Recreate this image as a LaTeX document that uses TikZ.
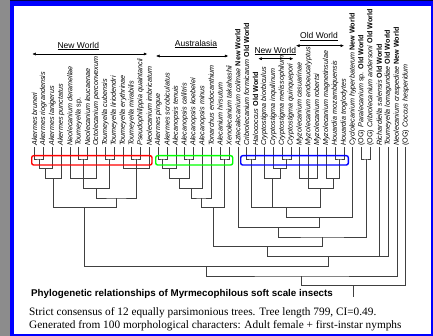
\documentclass[tikz,border=0pt]{standalone}
\usepackage{fontspec}
\setmainfont{Liberation Sans}
\newfontfamily\capfont{Liberation Serif}
\usetikzlibrary{calc,arrows.meta}

\newcommand\Ytop{159}
\newcommand\dY{9.75}
\newcommand\regn[1]{\textup{\bfseries #1}}
% one clade: name, left child, right child, level
\newcommand\clade[4]{%
  \pgfmathsetmacro\lvy{\Ytop+\dY*#4}
  \coordinate (#1) at ($(#2)!.5!(#3)$);
  \coordinate (#1) at (#1 |- 0,\lvy);
  \draw[branch] (#2) |- (#1) -| (#3);
}

\tikzset{
  branch/.style={draw=black!75, line width=0.6pt},
  taxon/.style={rotate=90, anchor=west, inner sep=0pt,
    font=\fontsize{7.2}{8}\selectfont\itshape},
  grpbox/.style={draw=#1, line width=1.4pt, rounded corners=2pt},
  rangearrow/.style={{Latex[length=3.5pt,width=3pt]}-{Latex[length=3.5pt,width=3pt]},
    line width=0.5pt},
  grp/.style={inner sep=0pt, font=\fontsize{8.5}{10}\selectfont},
}

\begin{document}
\begin{tikzpicture}[x=1pt,y=-1pt]
  \useasboundingbox (0,0) rectangle (433,336);

  % frame of the slide
  \fill[black!45] (0,0) rectangle (433,336);
  \fill[black!70!blue] (10,0) rectangle (433,1.2);
  \fill[blue] (10,1.2) rectangle (433,336);
  \fill[white] (14,6) rectangle (431,334);

  % taxa
  \foreach \nm [count=\i] in {Akermes bruneri, Akermes riograndensis,
    Akermes lanigerus, Akermes punctatus, Neolecanium deramellae,
    Toumeyella {\upshape sp.}, Neolecanium leucaenae, Octolecanium perconvexum,
    Toumeyella cubensis, Toumeyella liriodendri, Toumeyella erythrinae,
    Toumeyella mirabilis, Pseudophilippia quaintancii, Neolecanium imbricatum,
    Akermes pingue, Akermes scrobiculatus, Alecanopsis tenuis,
    Alecanopsis callitris, Alecanopsis koebelei, Alecanopsis minus,
    Tonarchus endocanthium, Alecanium hirsutum, Xenolecanium takahashii,
    Aztecalecanium colimae \regn{New World},
    Cribrolecanium formicarum \regn{Old World}, Halococcus \regn{Old World},
    Cryptostigma biorbiculus, Cryptostigma inquilinum,
    Cryptostigma melissophilum, Cryptostigma quinquepori,
    Myzolecanium casuarinae, Myzolecanium endoeucalyptus,
    Myzolecanium robertsi, Myzolecanium magnetinsulae,
    Houardia mozambiquensis, Houardia troglodytes,
    Cyclolecanium hyperbaterum \regn{New World},
    {\upshape(OG)} Paralecanium {\upshape sp.} \regn{Old World},
    {\upshape(OG)} Cribrolecanium andersoni \regn{Old World},
    Richardiella salensis \regn{Old World},
    Toumeyella lomagundiae \regn{Old World},
    Neolecanium craspediae \regn{New World},
    {\upshape(OG)} Coccus hesperidum}{
    \coordinate (l\i) at ({34.5+(\i-1)*8.84},147.5);
    \node[taxon] (t\i) at ({34.5+(\i-1)*8.84},146) {\nm};
  }

  % New World clade
  \clade{a1}{l1}{l2}{0}
  \clade{a2}{a1}{l3}{1}
  \clade{a3}{a2}{l4}{2}
  \clade{a4}{l6}{l7}{0}
  \clade{a5}{l5}{l8}{2}
  \draw[branch] (a4) -- (a4 |- a5);
  \clade{a6}{l9}{l10}{0}
  \clade{a7}{a5}{a6}{3}
  \clade{a8}{l12}{l13}{0}
  \clade{a9}{l11}{l14}{1}
  \draw[branch] (a8) -- (a8 |- a9);
  \clade{a10}{a7}{a9}{4}
  \clade{a11}{a3}{a10}{5}

  % Australasia
  \clade{b1}{l15}{l16}{0}
  \clade{b2}{b1}{l17}{1}
  \clade{b3}{l18}{l19}{0}
  \clade{b4}{b2}{b3}{2}
  \clade{b5}{b4}{l20}{3}
  \clade{b6}{b5}{l21}{4}
  \clade{b7}{l22}{l23}{0}
  \clade{b8}{b6}{b7}{5}

  % Old World / New World mix
  \clade{c1}{l25}{l26}{0}
  \clade{c2}{l29}{l30}{0}
  \clade{c3}{l28}{c2}{1}
  \clade{c4}{l27}{c3}{2}
  \clade{c5}{l31}{l33}{2}
  \draw[branch] (l32) -- (l32 |- c5);
  \clade{c6}{l35}{l36}{0}
  \clade{c7}{l34}{c6}{2}
  \clade{c8}{c5}{c7}{3}
  \clade{c9}{c1}{c8}{5}
  \draw[branch] (c4) -- (c4 |- c9);

  % backbone
  \clade{d1}{c9}{l37}{6}
  \clade{d2}{l24}{d1}{7}
  \clade{d3}{l38}{l39}{0}
  \clade{d4}{d2}{d3}{8}
  \clade{d5}{b8}{d4}{9}
  \clade{d6}{d5}{l41}{10}
  \draw[branch] (l40) -- (l40 |- d6);
  \clade{d7}{a11}{d6}{11}
  \clade{d8}{d7}{l42}{12}
  \clade{d9}{d8}{l43}{13}
  \coordinate (root) at (d9 |- 0,296.7);
  \draw[branch] (d9) -- (root);

  % boxes round the groups
  \draw[grpbox=red] (31.7,155.7) rectangle (152,165);
  \draw[grpbox=green] (155.7,155.7) rectangle (232.7,165);
  \draw[grpbox=blue] (240.7,155.7) rectangle (348.3,165);

  % ranges
  \coordinate (nw1a) at (32.3,54);  \coordinate (nw1b) at (147.3,54);
  \draw[rangearrow] (nw1a) -- (nw1b);
  \node[grp] (nw1) at (78.3,46) {\underline{New World}};
  \coordinate (ausa) at (156,56);  \coordinate (ausb) at (228.3,56);
  \draw[rangearrow] (ausa) -- (ausb);
  \node[grp] (aus) at (196,44) {\underline{Australasia}};
  \coordinate (nw2a) at (258.3,58.7);  \coordinate (nw2b) at (293.3,58.7);
  \draw[rangearrow] (nw2a) -- (nw2b);
  \node[grp] (nw2) at (275.3,51) {\underline{New World}};
  \coordinate (owa) at (296,45.7);  \coordinate (owb) at (344,45.7);
  \draw[rangearrow] (owa) -- (owb);
  \node[grp] (ow) at (319,36.7) {\underline{Old World}};

  % caption
  \node[anchor=west, inner sep=0pt, font=\fontsize{9.8}{11}\selectfont\bfseries]
    (title) at (31,294.3) {Phylogenetic relationships of Myrmecophilous soft scale insects};
  \node[anchor=west, inner sep=0pt, font=\capfont\fontsize{11.3}{13}\selectfont]
    (cap1) at (29,312.3) {Strict consensus of 12 equally parsimonious trees. Tree length 799, CI=0.49.};
  \node[anchor=west, inner sep=0pt, font=\capfont\fontsize{11.3}{13}\selectfont]
    (cap2) at (29,325.7) {Generated from 100 morphological characters: Adult female + first-instar nymphs};
\end{tikzpicture}
\end{document}
